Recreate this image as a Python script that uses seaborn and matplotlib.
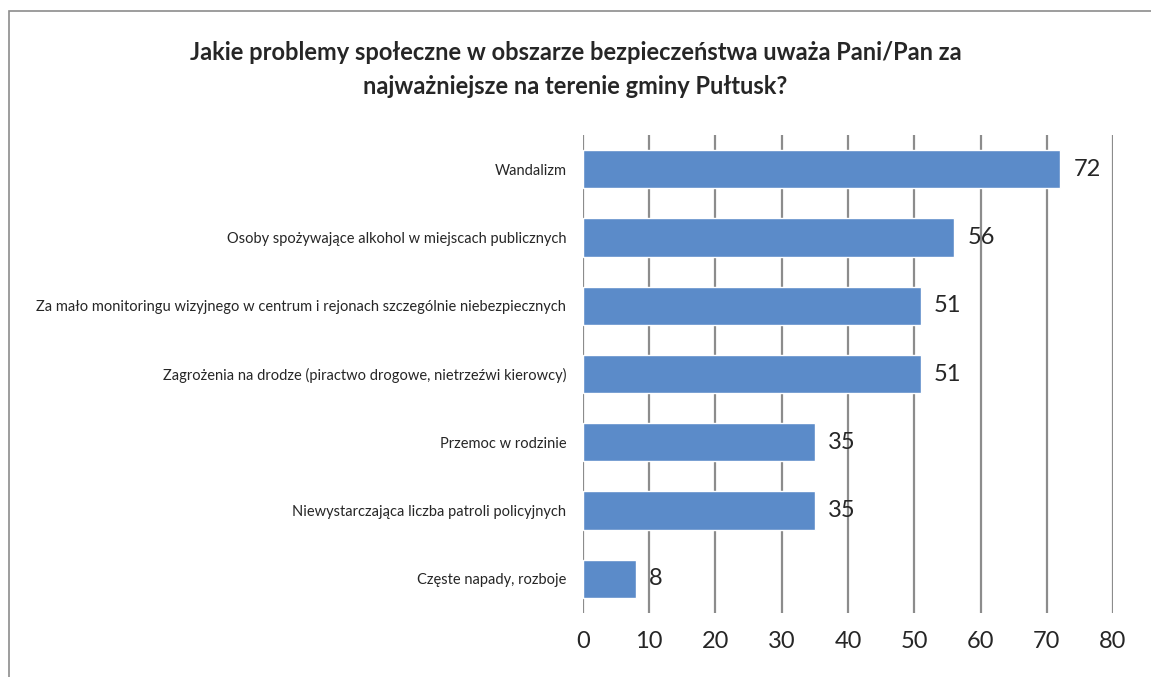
import pandas as pd
import matplotlib.pyplot as plt
import seaborn as sns
from matplotlib.patches import Rectangle

sns.set_style("white")
plt.rcParams["font.family"] = ["Lato", "DejaVu Sans"]

categories = [
    "Wandalizm",
    "Osoby spożywające alkohol w miejscach publicznych",
    "Za mało monitoringu wizyjnego w centrum i rejonach szczególnie niebezpiecznych",
    "Zagrożenia na drodze (piractwo drogowe, nietrzeźwi kierowcy)",
    "Przemoc w rodzinie",
    "Niewystarczająca liczba patroli policyjnych",
    "Częste napady, rozboje",
]
values = [72, 56, 51, 51, 35, 35, 8]
x_ticks = [0, 10, 20, 30, 40, 50, 60, 70, 80]

df = pd.DataFrame({"problem": categories, "count": values})

fig = plt.figure(figsize=(11.51, 6.77), dpi=100)
ax = fig.add_axes([0.5065, 0.0945, 0.4605, 0.706])

sns.barplot(data=df, x="count", y="problem", color="#5B8BC9", width=0.56,
            saturation=1, ax=ax, zorder=3)

ax.set_xlim(0, 80)
ax.set_xticks(x_ticks)
ax.tick_params(axis="x", labelsize=17, length=0, pad=13)
ax.tick_params(axis="y", labelsize=10.5, length=0, pad=12)
ax.grid(axis="x", color="#8c8c8c", linewidth=1.6, zorder=0)
ax.grid(axis="y", visible=False)
for s in ax.spines.values():
    s.set_visible(False)
ax.set_xlabel("")
ax.set_ylabel("")

for i, v in enumerate(values):
    ax.text(v + 2, i, str(v), va="center", ha="left", fontsize=17, zorder=4)

fig.suptitle("Jakie problemy społeczne w obszarze bezpieczeństwa uważa Pani/Pan za\n"
             "najważniejsze na terenie gminy Pułtusk?",
             x=0.5, y=0.94, fontsize=17, fontweight="bold", linespacing=1.6)

fig.patches.append(Rectangle((9 / 1151, -0.1), 1.2, 1.1 - 11 / 677,
                             transform=fig.transFigure, fill=False,
                             edgecolor="#8c8c8c", linewidth=1.2))

fig.savefig("out.png", dpi=100)
